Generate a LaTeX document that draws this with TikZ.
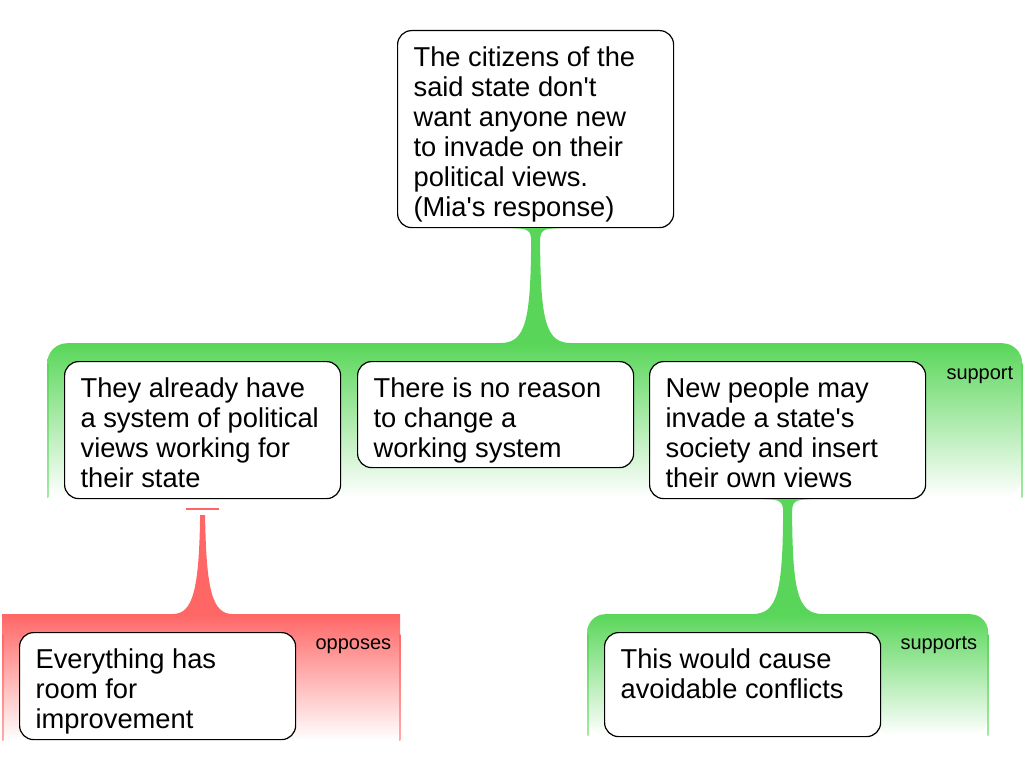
\documentclass[tikz,border=0pt]{standalone}
\usepackage{fontspec}
\setmainfont{Liberation Sans}[Ligatures=TeXOff]
\usetikzlibrary{positioning, calc}

\definecolor{grn}{RGB}{89,214,89}
\definecolor{rd}{RGB}{255,102,102}

\newcommand{\claimtext}[2]{\parbox[c][#1][t]{244pt}{\raggedright\vspace*{16.5pt}#2}}
\newcommand{\neckstem}[3]{%
  \fill[#1] ($(#2)+(-24,0)$) .. controls ($(#2)+(-6,0)$) and ($(#2)+(-4.5,3)$) .. ($(#2)+(-4.5,14)$)
    .. controls ($(#3)+(-5,-23)$) and ($(#3)+(-10,0)$) .. ($(#3)+(-35,0)$)
    -- ($(#3)+(35,0)$)
    .. controls ($(#3)+(10,0)$) and ($(#3)+(5,-23)$) .. ($(#2)+(4.5,14)$)
    .. controls ($(#2)+(4.5,3)$) and ($(#2)+(6,0)$) .. ($(#2)+(24,0)$) -- cycle;}

\tikzset{
  claim/.style={draw, line width=1.2pt, rounded corners=14pt, fill=white, inner xsep=16pt, inner ysep=0pt,
    anchor=north west, font=\fontsize{27.3}{30}\selectfont},
  grp/.style={anchor=north west, inner sep=0pt, top color=#1, bottom color=white},
  lbl/.style={anchor=base east, inner sep=0pt, font=\fontsize{20}{24}\selectfont}
}

\begin{document}
\begin{tikzpicture}[x=1pt, y=-1pt]
  \useasboundingbox (0,0) rectangle (1024,768);
  % Groups
  \node[grp=grn, rounded corners=20pt, minimum width=975pt, minimum height=154pt] (sup) at (47,343) {};
  \node[grp=rd, minimum width=398pt, minimum height=126pt] (opp) at (2,614) {};
  \node[grp=grn, rounded corners=18pt, minimum width=401pt, minimum height=121pt] (sups) at (587,614) {};
  \foreach \g/\c in {sup/grn, opp/rd, sups/grn} {
    \shade[top color=\c, bottom color=\c!55] ($(\g.north west)+(0,20)$) rectangle ($(\g.south west)+(1.3,0)$);
    \shade[top color=\c, bottom color=\c!55] ($(\g.north east)+(-1.3,20)$) rectangle (\g.south east);
  }
  \node[lbl] (suplbl) at ($(sup.north east)+(-9,36)$) {support};
  \node[lbl] (opplbl) at ($(opp.north east)+(-9,35)$) {opposes};
  \node[lbl] (supslbl) at ($(sups.north east)+(-11,35)$) {supports};
  % Claims
  \node[claim] (top) at (397,30) {\claimtext{197pt}{The citizens of the\\ said state don't\\ want anyone new\\ to invade on their\\ political views.\\ (Mia's response)}};
  \node[claim] (a) at (64,361) {\claimtext{137pt}{They already have\\ a system of political\\ views working for\\ their state}};
  \node[claim] (b) at (357,361) {\claimtext{106pt}{There is no reason\\ to change a\\ working system}};
  \node[claim] (c) at (649,361) {\claimtext{137pt}{New people may\\ invade a state's\\ society and insert\\ their own views}};
  \node[claim] (ev) at (19,632) {\claimtext{107pt}{Everything has\\ room for\\ improvement}};
  \node[claim] (conf) at (604,632) {\claimtext{104pt}{This would cause\\ avoidable conflicts}};
  % Links
  \coordinate (supt) at (top.south |- sup.north);
  \coordinate (supst) at (c.south |- sups.north);
  \coordinate (oppt) at (a.south |- opp.north);
  \neckstem{grn}{top.south}{supt}
  \neckstem{grn}{c.south}{supst}
  \draw[rd, line width=2pt] ($(a.south)+(-16.5,10)$) -- ($(a.south)+(16.5,10)$);
  \fill[rd] ($(a.south)+(-2.5,16)$) .. controls ($(oppt)+(-3.5,-23)$) and ($(oppt)+(-10,0)$) .. ($(oppt)+(-30,0)$)
    -- ($(oppt)+(30,0)$) .. controls ($(oppt)+(10,0)$) and ($(oppt)+(3.5,-23)$) .. ($(a.south)+(2.5,16)$) -- cycle;
\end{tikzpicture}
\end{document}
